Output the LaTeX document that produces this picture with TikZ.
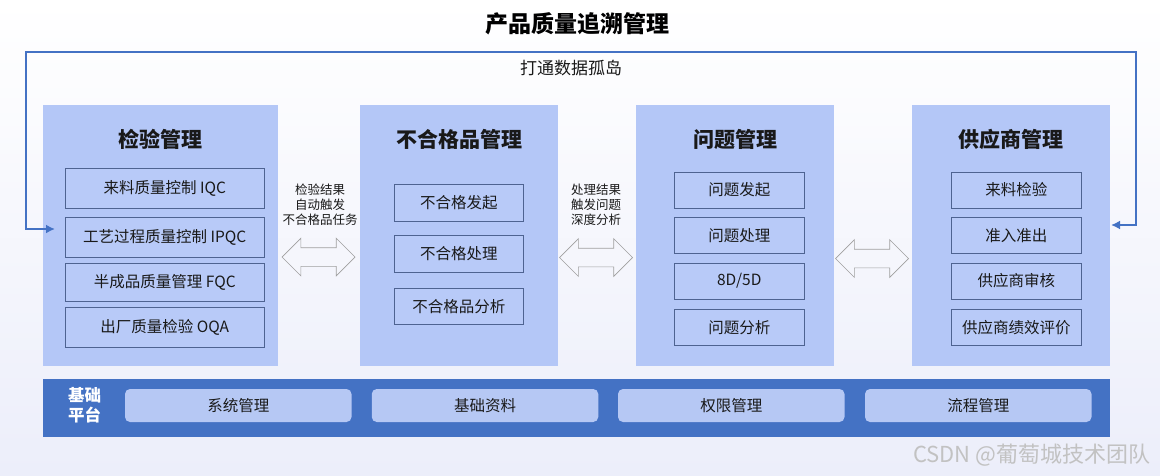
\documentclass[tikz,border=0pt]{standalone}
\usepackage{fontspec}
\setmainfont{Noto Sans CJK SC}
\usetikzlibrary{arrows.meta, positioning, shapes.arrows}

\definecolor{panelblue}{HTML}{B4C7F7}
\definecolor{itemblue}{HTML}{B8CAF8}
\definecolor{itemline}{HTML}{4E6391}
\definecolor{barblue}{HTML}{4472C4}
\definecolor{baseblue}{HTML}{B6C8F4}
\definecolor{bgbottom}{HTML}{ECEEFA}
\definecolor{wmgray}{HTML}{C2C2C2}

\begin{document}
\begin{tikzpicture}[
    x=1pt, y=-1pt,
    panel/.style={rectangle, fill=panelblue, inner sep=0pt, minimum height=261pt},
    ptitle/.style={font=\fontsize{21}{24}\selectfont\bfseries, text=black!90},
    item/.style={rectangle, draw=itemline, line width=0.8pt, fill=itemblue, inner sep=0pt,
        font=\fontsize{15.5}{18}\selectfont, text=black!90},
    note/.style={align=center, font=\fontsize{12.5}{15}\selectfont, text=black!90},
    dblarrow/.style={double arrow, draw=gray!75, line width=0.7pt, fill=white!50!bgbottom,
        inner xsep=0pt, inner ysep=9pt, double arrow head extend=9.5pt, minimum height=73pt},
    basebox/.style={rectangle, rounded corners=5pt, fill=baseblue, inner sep=0pt,
        minimum width=226.5pt, minimum height=33pt, font=\fontsize{15.5}{18}\selectfont, text=black!90},
    loop/.style={draw=barblue, line width=2.8pt, {Latex[length=9pt,width=9pt]}-{Latex[length=9pt,width=9pt]}},
]

% background and page size
\shade[top color=white, bottom color=bgbottom] (0,0) rectangle (1160,475);
\useasboundingbox (0,0) rectangle (1160,475);

\node[font=\fontsize{23}{26}\selectfont\bfseries] (title) at (577,24) {产品质量追溯管理};

% four module panels
\node[panel, minimum width=235.5pt] (insp)  at (160.25,235.5) {};
\node[panel, minimum width=197.5pt] (ncr)   at (458.75,235.5) {};
\node[panel, minimum width=198.5pt] (issue) at (734.75,235.5) {};
\node[panel, minimum width=198pt]   (supp)  at (1011,235.5)   {};

\node[ptitle] (insptitle)  at (160,139)   {检验管理};
\node[ptitle] (ncrtitle)   at (459,139)   {不合格品管理};
\node[ptitle] (issuetitle) at (735,139)   {问题管理};
\node[ptitle] (supptitle)  at (1011,139)  {供应商管理};

% inspection items
\node[item, minimum width=199.5pt, minimum height=40pt] (iqc)  at (164.75,188.5) {来料质量控制 IQC};
\node[item, minimum width=199.5pt, minimum height=40pt] (ipqc) at (164.75,237)   {工艺过程质量控制 IPQC};
\node[item, minimum width=199.5pt, minimum height=38pt] (fqc)  at (164.75,282)   {半成品质量管理 FQC};
\node[item, minimum width=199.5pt, minimum height=40pt] (oqa)  at (164.75,327)   {出厂质量检验 OQA};

% nonconformance items
\node[item, minimum width=129.5pt, minimum height=37pt] (ncstart)   at (458.75,202.5) {不合格发起};
\node[item, minimum width=129.5pt, minimum height=37pt] (nchandle)  at (458.75,253.5) {不合格处理};
\node[item, minimum width=129.5pt, minimum height=36pt] (ncanalyse) at (458.75,306.5) {不合格品分析};

% issue items
\node[item, minimum width=130.5pt, minimum height=36pt] (isstart)   at (739.25,190)   {问题发起};
\node[item, minimum width=130.5pt, minimum height=36pt] (ishandle)  at (739.25,235.5) {问题处理};
\node[item, minimum width=130.5pt, minimum height=36pt] (iseightd)  at (739.25,281)   {8D/5D};
\node[item, minimum width=130.5pt, minimum height=36pt] (isanalyse) at (739.25,327.5) {问题分析};

% supplier items
\node[item, minimum width=129.5pt, minimum height=36pt] (incoming) at (1016.25,190)   {来料检验};
\node[item, minimum width=129.5pt, minimum height=36pt] (access)   at (1016.25,235.5) {准入准出};
\node[item, minimum width=129.5pt, minimum height=36pt] (audit)    at (1016.25,281)   {供应商审核};
\node[item, minimum width=129.5pt, minimum height=36pt] (perf)     at (1016.25,327.5) {供应商绩效评价};

% links between panels
\node[dblarrow] (linka) at (318.5,257) {};
\node[dblarrow] (linkb) at (596,257.5) {};
\node[dblarrow] (linkc) at (872,258.5) {};
\node[note] (notea) at (320,205) {检验结果\\自动触发\\不合格品任务};
\node[note] (noteb) at (596,205) {处理结果\\触发问题\\深度分析};

% data loop over the top
\coordinate (loopin)  at (55,229);
\coordinate (loopout) at (1111,225);
\coordinate (loopnw)  at (26,52);
\coordinate (loopse)  at (1136,225);
\draw[loop] (loopin) -| (loopnw) -| (loopse) -- (loopout);
\node[font=\fontsize{17}{20}\selectfont, text=black!90] (looplabel) at (571,68) {打通数据孤岛};

% foundation bar
\node[rectangle, fill=barblue, inner sep=0pt, minimum width=1067.5pt, minimum height=58pt] (base) at (576.25,408) {};
\node[align=center, text=white, font=\fontsize{16.5}{20}\selectfont\bfseries] (basetitle) at (84.5,405) {基础\\平台};
\node[basebox] (sysmgmt)  at (238.25,405.5) {系统管理};
\node[basebox] (basedata) at (485,405.5)    {基础资料};
\node[basebox] (perm)     at (731.25,405.5) {权限管理};
\node[basebox] (flow)     at (978.25,405.5) {流程管理};

\node[text=wmgray, font=\fontsize{22}{24}\selectfont, anchor=east] (watermark) at (1154,455) {CSDN @葡萄城技术团队};

\end{tikzpicture}
\end{document}
